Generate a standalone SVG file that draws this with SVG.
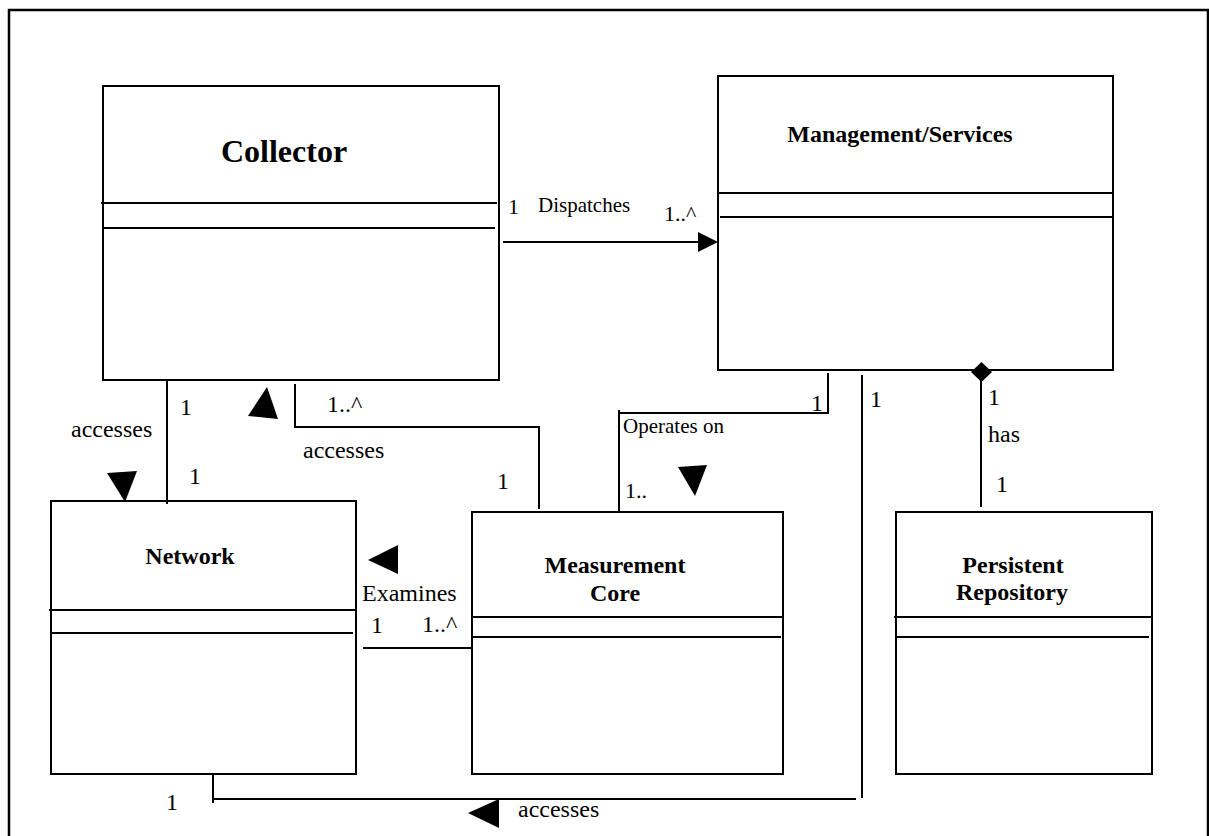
<svg xmlns="http://www.w3.org/2000/svg" width="1209" height="836" viewBox="0 0 1209 836">
  <style>
    .box { fill: #ffffff; stroke: #000000; stroke-width: 2; }
    .sep { stroke: #000000; stroke-width: 2; fill: none; }
    .ln { stroke: #000000; stroke-width: 2; fill: none; }
    .head { fill: #000000; stroke: none; }
    .title { font-family: "Liberation Serif", "Times New Roman", serif; font-weight: bold; font-size: 24px; text-anchor: middle; fill: #000000; }
    .lbl { font-family: "Liberation Serif", "Times New Roman", serif; font-size: 24px; fill: #000000; }
    .sm { font-size: 21px; }
  </style>
  <rect x="0" y="0" width="1209" height="836" fill="#ffffff"/>
  <!-- outer frame -->
  <rect x="9" y="10" width="1199" height="900" fill="none" stroke="#000000" stroke-width="2.5"/>

  <g id="collector">
    <rect class="box" x="103" y="86" width="396" height="294"/>
    <line class="sep" x1="101" y1="203" x2="497" y2="203"/>
    <line class="sep" x1="103" y1="228" x2="495" y2="228"/>
    <text class="title" x="284" y="162" style="font-size:32px">Collector</text>
  </g>

  <g id="management-services">
    <rect class="box" x="718" y="76" width="395" height="294"/>
    <line class="sep" x1="718" y1="193" x2="1114" y2="193"/>
    <line class="sep" x1="720" y1="217" x2="1112" y2="217"/>
    <text class="title" x="900" y="142">Management/Services</text>
  </g>

  <g id="network">
    <rect class="box" x="51" y="501" width="305" height="273"/>
    <line class="sep" x1="49" y1="610" x2="355" y2="610"/>
    <line class="sep" x1="51" y1="633" x2="353" y2="633"/>
    <text class="title" x="190" y="564">Network</text>
  </g>

  <g id="measurement-core">
    <rect class="box" x="472" y="512" width="311" height="262"/>
    <line class="sep" x1="471" y1="617" x2="783" y2="617"/>
    <line class="sep" x1="472" y1="637" x2="781" y2="637"/>
    <text class="title" x="615" y="573">Measurement</text>
    <text class="title" x="615" y="601">Core</text>
  </g>

  <g id="persistent-repository">
    <rect class="box" x="896" y="512" width="256" height="262"/>
    <line class="sep" x1="894" y1="617" x2="1152" y2="617"/>
    <line class="sep" x1="896" y1="637" x2="1149" y2="637"/>
    <text class="title" x="1013" y="573">Persistent</text>
    <text class="title" x="1012" y="600">Repository</text>
  </g>

  <g id="connectors">
    <!-- Collector dispatches Management/Services -->
    <line class="ln" x1="503" y1="242" x2="700" y2="242"/>
    <polygon class="head" points="698,232 718,242 698,252"/>
    <text class="lbl" x="508" y="214" style="font-size:22px">1</text>
    <text class="lbl sm" x="538" y="212">Dispatches</text>
    <text class="lbl" x="664" y="221" style="font-size:22px">1..^</text>

    <!-- Collector accesses Network -->
    <line class="ln" x1="167" y1="380" x2="167" y2="504"/>
    <polygon class="head" points="107,473 137,471 125,502"/>
    <text class="lbl" x="180" y="415">1</text>
    <text class="lbl" x="71" y="437">accesses</text>
    <text class="lbl" x="189" y="484">1</text>

    <!-- Measurement Core accesses Collector -->
    <polyline class="ln" points="295,384 295,427 539,427 539,509"/>
    <polygon class="head" points="267,387 248,416 278,419"/>
    <text class="lbl" x="327" y="412">1..^</text>
    <text class="lbl" x="303" y="458">accesses</text>
    <text class="lbl" x="497" y="489">1</text>

    <!-- Management/Services operates on Measurement Core -->
    <polyline class="ln" points="828,373 828,413 619,413"/>
    <line class="ln" x1="619" y1="410" x2="619" y2="513"/>
    <polygon class="head" points="678,467 707,465 695,496"/>
    <text class="lbl" x="811" y="411">1</text>
    <text class="lbl sm" x="623" y="433">Operates on</text>
    <text class="lbl" x="625" y="498" style="font-size:22px">1..</text>

    <!-- Measurement Core examines Network -->
    <line class="ln" x1="363" y1="648" x2="473" y2="648"/>
    <polygon class="head" points="368,560 398,545 398,574"/>
    <text class="lbl" x="362" y="601">Examines</text>
    <text class="lbl" x="371" y="633">1</text>
    <text class="lbl" x="422" y="632">1..^</text>

    <!-- Management/Services has Persistent Repository (composition) -->
    <line class="ln" x1="981" y1="380" x2="981" y2="507"/>
    <polygon class="head" points="981.5,362 992,372 981.5,382 971,372"/>
    <text class="lbl" x="988" y="405">1</text>
    <text class="lbl" x="988" y="442">has</text>
    <text class="lbl" x="996" y="492">1</text>

    <!-- Management/Services accesses Network -->
    <line class="ln" x1="862" y1="375" x2="862" y2="798"/>
    <line class="ln" x1="213" y1="799" x2="856" y2="799"/>
    <line class="ln" x1="213" y1="774" x2="213" y2="803"/>
    <polygon class="head" points="468,813 499,799 499,828"/>
    <text class="lbl" x="870" y="407">1</text>
    <text class="lbl" x="166" y="810">1</text>
    <text class="lbl" x="518" y="817">accesses</text>
  </g>
</svg>
